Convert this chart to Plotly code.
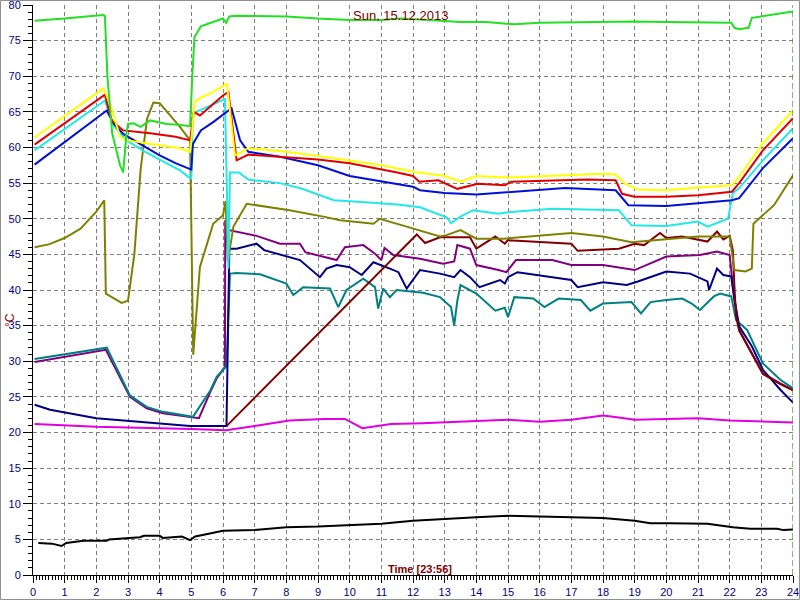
import plotly.graph_objects as go

# ---------------- data (hours, °C) ----------------
lime_t = [0.05, 1, 2.2, 2.27, 2.35, 2.5, 2.75, 2.85, 2.95, 3.0, 3.17, 3.4, 3.7, 4.0, 4.22, 4.6, 4.96, 5.03, 5.1, 5.3, 5.6, 6.0, 6.1, 6.2, 6.4, 7, 8, 9, 10, 11, 11.6, 12.5, 13.5, 14.3, 15.2, 16, 17, 18, 19, 20, 21, 22.05, 22.15, 22.3, 22.6, 22.7, 23, 24]
lime_v = [77.8, 78.1, 78.6, 78.5, 70.0, 62.0, 57.5, 56.5, 62.0, 63.3, 63.4, 62.9, 63.8, 63.5, 63.3, 63.2, 63.0, 70.0, 75.5, 77.0, 77.5, 78.1, 77.5, 78.4, 78.5, 78.5, 78.4, 78.1, 77.9, 77.9, 78.1, 77.9, 77.6, 77.6, 77.3, 77.5, 77.6, 77.6, 77.7, 77.6, 77.6, 77.5, 76.8, 76.6, 76.8, 78.2, 78.4, 79.1]

yellow_t = [0.05, 2.22, 2.43, 2.75, 3.0, 3.5, 4.0, 4.64, 4.96, 5.02, 5.1, 5.3, 5.6, 6.0, 6.12, 6.38, 6.8, 7.5, 8, 9, 10, 11, 12, 13, 13.5, 14, 15, 16, 17, 18, 18.4, 18.7, 19.1, 20, 21, 22.07, 22.3, 23.05, 24]
yellow_v = [61.4, 68.3, 66.2, 61.5, 61.0, 60.6, 60.3, 59.9, 59.4, 62.0, 66.4, 67.0, 67.6, 68.6, 69.0, 58.9, 59.9, 59.6, 59.4, 58.8, 58.2, 57.5, 56.6, 56.0, 55.2, 56.0, 55.8, 56.0, 56.1, 56.3, 56.2, 54.9, 54.1, 54.0, 54.4, 54.7, 55.9, 60.6, 65.2]

red_t = [0.05, 2.27, 2.48, 2.85, 3.7, 4.5, 4.96, 5.02, 5.08, 5.27, 5.6, 6.0, 6.17, 6.43, 6.8, 7.8, 9, 10, 11, 11.5, 12, 12.2, 12.8, 13.4, 14.05, 14.9, 15.1, 16.4, 17.5, 18.4, 18.6, 19, 20, 21, 22.07, 22.3, 23.05, 24]
red_v = [60.4, 67.4, 63.8, 62.4, 62.0, 61.5, 61.0, 63.0, 65.0, 64.5, 65.8, 67.3, 67.8, 58.2, 59.0, 58.7, 58.3, 57.8, 57.0, 56.5, 56.0, 55.2, 55.4, 54.2, 54.9, 54.7, 55.2, 55.4, 55.5, 55.4, 53.5, 53.1, 53.1, 53.3, 53.8, 55.0, 59.6, 64.1]

cyan_t = [0.05, 2.27, 2.54, 2.96, 3.5, 4.0, 4.64, 4.96, 5.0, 5.05, 5.3, 5.6, 6.06, 6.12, 6.17, 6.22, 6.5, 6.8, 7.8, 8.5, 9.5, 10.5, 11.5, 12.22, 13.06, 13.2, 13.5, 13.9, 14.7, 15, 16.4, 18.5, 18.9, 20, 21, 21.3, 21.95, 22.1, 22.3, 23.05, 24]
cyan_v = [59.6, 66.6, 63.1, 61.0, 59.5, 58.3, 56.8, 55.7, 55.7, 64.8, 65.3, 65.8, 66.8, 55.0, 43.0, 56.5, 56.5, 55.5, 55.0, 54.2, 52.6, 52.3, 52.0, 51.6, 50.2, 49.4, 50.3, 51.2, 50.7, 50.9, 51.4, 51.2, 49.1, 49.0, 49.6, 48.9, 50.0, 53.6, 54.3, 58.2, 62.7]

blue_t = [0.05, 2.33, 2.54, 2.85, 3.5, 4.0, 4.5, 5.0, 5.05, 5.3, 5.7, 6.0, 6.27, 6.54, 6.8, 7.8, 9, 10, 11, 12, 12.22, 13, 14, 15, 16.8, 18.4, 18.8, 20, 21, 22.07, 22.3, 23.05, 24]
blue_v = [57.6, 65.2, 63.4, 61.9, 60.2, 58.9, 57.8, 56.9, 60.5, 62.4, 63.6, 64.6, 65.5, 61.0, 59.4, 58.7, 57.5, 56.0, 55.3, 54.5, 54.0, 53.6, 53.4, 53.7, 54.3, 54.0, 51.9, 51.8, 52.2, 52.6, 52.9, 57.1, 61.3]

olive_t = [0.05, 0.5, 1.0, 1.5, 2.0, 2.25, 2.3, 2.5, 2.8, 3.0, 3.2, 3.4, 3.6, 3.8, 4.0, 4.33, 4.64, 4.96, 5.06, 5.27, 5.5, 5.69, 6.0, 6.08, 6.15, 6.33, 6.75, 8.1, 9.17, 9.7, 10.75, 10.95, 11.8, 12.2, 12.85, 13.06, 13.5, 14.0, 14.85, 17, 18, 18.9, 20, 21, 22.0, 22.15, 22.5, 22.7, 22.75, 23.05, 23.4, 24]
olive_v = [46.0, 46.4, 47.3, 48.6, 51.0, 52.6, 39.5, 39.0, 38.2, 38.5, 45.0, 57.0, 64.0, 66.3, 66.2, 64.5, 62.9, 61.0, 30.9, 43.2, 46.5, 49.3, 50.5, 52.5, 44.0, 48.9, 52.1, 51.2, 50.3, 49.8, 49.3, 50.0, 48.9, 48.4, 47.5, 47.7, 48.4, 47.2, 47.2, 48.0, 47.5, 46.7, 47.1, 47.5, 47.5, 42.8, 42.6, 43.0, 49.3, 50.5, 51.9, 56.1]

purple_t = [0.05, 2.3, 3.06, 3.59, 4.1, 5.24, 5.6, 5.8, 6.06, 6.07, 6.2, 6.75, 7.06, 7.8, 8.43, 8.6, 9.59, 9.85, 10.43, 10.8, 11.0, 11.1, 11.38, 12.22, 12.95, 13.3, 13.4, 13.8, 14.0, 14.7, 14.95, 15.25, 16.4, 17, 18, 19, 19.8, 20, 21.06, 21.6, 22.0, 22.1, 22.3, 22.7, 23.05, 23.6, 24]
purple_v = [29.9, 31.6, 25.0, 23.4, 22.7, 22.0, 25.7, 27.6, 29.2, 49.8, 48.4, 47.9, 47.6, 46.5, 46.5, 45.3, 44.2, 46.0, 46.3, 45.1, 44.2, 45.9, 44.9, 44.4, 43.7, 44.0, 46.3, 45.8, 43.5, 42.8, 42.5, 44.2, 44.2, 43.5, 43.5, 42.8, 44.4, 44.7, 44.9, 45.4, 44.9, 40.5, 34.4, 31.1, 28.3, 26.9, 26.0]

navy_t = [0.05, 0.54, 2.0, 4.1, 4.96, 6.11, 6.2, 6.43, 7.06, 7.3, 8.1, 8.43, 9.06, 9.27, 9.59, 10.0, 10.38, 10.75, 11.27, 11.54, 11.8, 12.22, 12.85, 13.3, 13.5, 13.8, 14.1, 14.75, 14.9, 15.0, 15.3, 17, 17.2, 18, 18.75, 19.1, 20, 20.75, 21.3, 21.35, 21.6, 21.8, 22.05, 22.15, 22.3, 22.7, 23.05, 23.6, 24]
navy_v = [23.9, 23.2, 22.0, 21.2, 20.9, 20.9, 45.8, 45.8, 46.5, 45.6, 44.6, 44.2, 41.8, 43.0, 43.5, 43.2, 42.1, 43.9, 43.0, 42.5, 40.2, 42.8, 42.3, 41.8, 42.8, 41.8, 40.4, 41.4, 40.9, 41.8, 42.5, 41.4, 40.4, 41.1, 40.7, 41.2, 42.6, 42.3, 41.2, 40.0, 43.0, 42.1, 41.9, 38.6, 34.9, 32.1, 28.8, 26.0, 24.2]

teal_t = [0.05, 2.33, 3.06, 3.59, 4.1, 5.05, 5.6, 5.8, 6.11, 6.22, 6.43, 7.17, 8.0, 8.22, 8.53, 9.38, 9.64, 9.9, 10.43, 10.8, 10.9, 11.06, 11.27, 11.48, 12.32, 12.85, 13.2, 13.3, 13.4, 13.5, 14.0, 14.6, 14.9, 15.0, 15.2, 15.8, 16.15, 16.6, 17.3, 17.6, 18, 18.9, 19.2, 19.5, 20, 20.5, 20.8, 21.06, 21.5, 21.7, 22.05, 22.2, 22.55, 23.05, 23.6, 24]
teal_v = [30.3, 31.9, 25.2, 23.6, 22.9, 22.2, 25.9, 27.8, 29.3, 42.3, 42.4, 42.2, 40.9, 39.3, 40.4, 40.2, 37.6, 40.0, 41.6, 40.4, 37.4, 40.2, 39.0, 40.0, 39.6, 39.0, 37.6, 35.0, 38.5, 40.7, 39.5, 37.1, 37.5, 36.2, 39.0, 38.8, 37.6, 38.8, 38.6, 37.1, 38.1, 38.3, 36.7, 38.3, 38.6, 38.8, 38.1, 37.2, 39.1, 39.5, 39.1, 35.8, 34.4, 29.7, 27.4, 26.2]

maroon_t = [6.11, 12.12, 12.38, 12.85, 13.8, 14.0, 14.6, 14.9, 15.0, 17, 17.2, 18.5, 19.0, 19.3, 19.8, 20.0, 20.5, 21.3, 21.6, 21.8, 22.0, 22.1, 22.15, 22.2, 22.3, 22.7, 23.05, 23.6, 24]
maroon_v = [20.9, 47.8, 46.6, 47.4, 47.4, 45.8, 47.5, 46.5, 47.0, 46.5, 45.5, 45.8, 46.5, 46.3, 48.0, 47.3, 47.5, 46.8, 48.2, 47.1, 47.6, 45.6, 40.5, 36.3, 34.3, 31.0, 28.2, 26.8, 25.9]

magenta_t = [0.05, 2, 5, 6.1, 7, 8.1, 9.2, 9.85, 10.4, 11.3, 12.3, 13, 14, 15, 16, 17, 18, 18.5, 19, 20, 21, 22, 23, 24]
magenta_v = [21.2, 20.8, 20.5, 20.3, 20.9, 21.7, 21.9, 21.9, 20.6, 21.2, 21.3, 21.4, 21.6, 21.8, 21.5, 21.8, 22.4, 22.1, 21.8, 21.9, 22.0, 21.7, 21.6, 21.4]

black_t = [0.17, 0.6, 0.9, 1.05, 1.59, 2.33, 2.4, 2.96, 3.38, 3.5, 4.0, 4.1, 4.7, 4.96, 5.12, 5.28, 6, 7, 8, 9, 10, 11, 12, 13, 14, 15, 16, 17, 18, 19, 19.5, 20.1, 21.0, 21.3, 22.1, 22.65, 23.5, 23.7, 24]
black_v = [4.5, 4.4, 4.07, 4.5, 4.8, 4.8, 5.0, 5.15, 5.3, 5.5, 5.5, 5.2, 5.4, 4.9, 5.4, 5.55, 6.2, 6.3, 6.7, 6.8, 7.0, 7.2, 7.6, 7.9, 8.1, 8.3, 8.2, 8.1, 8.0, 7.6, 7.25, 7.25, 7.2, 7.2, 6.7, 6.5, 6.5, 6.3, 6.4]

x_ticks = list(range(0, 25))
y_ticks = list(range(0, 81, 5))
title_text = "Sun, 15.12.2013"
time_text = "Time [23:56]"
unit_text = "°C"

# ---------------- figure ----------------
series = [
    (black_t, black_v, "#000000"),
    (magenta_t, magenta_v, "#e000e0"),
    (purple_t, purple_v, "#800080"),
    (teal_t, teal_v, "#008080"),
    (navy_t, navy_v, "#000080"),
    (maroon_t, maroon_v, "#800000"),
    (olive_t, olive_v, "#808000"),
    (cyan_t, cyan_v, "#22e8e8"),
    (blue_t, blue_v, "#0010d8"),
    (red_t, red_v, "#e00000"),
    (yellow_t, yellow_v, "#ffff00"),
    (lime_t, lime_v, "#22e022"),
]

fig = go.Figure()
for t, v, c in series:
    fig.add_trace(go.Scatter(x=t, y=v, mode="lines", line=dict(color=c, width=2),
                             hoverinfo="skip", showlegend=False))

W, H = 800, 600
ML, MR, MT, MB = 33, 7, 5, 25
pw, ph = W - ML - MR, H - MT - MB

fig.update_layout(
    width=W, height=H, autosize=False,
    margin=dict(l=ML, r=MR, t=MT, b=MB, pad=0, autoexpand=False),
    paper_bgcolor="white", plot_bgcolor="white",
    font=dict(family="Liberation Sans, Arial, sans-serif", size=11, color="#000080"),
    xaxis=dict(range=[0, 24], tickvals=x_ticks, showgrid=True, gridcolor="#808080",
               griddash="4px,3px", gridwidth=1, zeroline=False, automargin=False,
               showline=True, linecolor="#000000", linewidth=1, ticklabeloverflow="allow",
               ticks="outside", ticklen=7, tickcolor="#000000",
               minor=dict(dtick=0.1, ticks="outside", ticklen=4, tickcolor="#000000", showgrid=False),
               tickfont=dict(size=11, color="#000080")),
    yaxis=dict(range=[0, 80], tickvals=y_ticks, showgrid=True, gridcolor="#808080",
               griddash="4px,3px", gridwidth=1, zeroline=False, automargin=False,
               showline=True, linecolor="#000000", linewidth=1, ticklabeloverflow="allow",
               ticks="outside", ticklen=9, tickcolor="#000000",
               minor=dict(dtick=1, ticks="outside", ticklen=4, tickcolor="#000000", showgrid=False),
               tickfont=dict(size=11, color="#000080")),
)

# right-edge marker (dashed dark green) at end of day
fig.add_shape(type="line", xref="x", yref="paper", x0=24, x1=24, y0=0, y1=1,
              line=dict(color="#007000", width=1, dash="6px,3px"))
# outer frame
fig.add_shape(type="rect", xref="paper", yref="paper",
              x0=-(ML - 0.5) / pw, x1=(pw + MR - 0.5) / pw,
              y0=-(MB - 0.5) / ph, y1=(ph + MT - 0.5) / ph,
              line=dict(color="#909090", width=1), fillcolor="rgba(0,0,0,0)", layer="above")

fig.add_annotation(text=title_text, xref="paper", yref="paper",
                   x=(400 - ML) / pw, y=(H - MB - 16) / ph, showarrow=False,
                   font=dict(size=13, color="#800000", family="Liberation Sans, Arial, sans-serif"),
                   xanchor="center", yanchor="middle")
fig.add_annotation(text="<b>" + time_text + "</b>", xref="paper", yref="paper",
                   x=(420 - ML) / pw, y=(H - MB - 569) / ph, showarrow=False,
                   font=dict(size=11, color="#800000", family="Liberation Sans, Arial, sans-serif"),
                   xanchor="center", yanchor="middle")
fig.add_annotation(text=unit_text, xref="paper", yref="paper",
                   x=(10 - ML) / pw, y=(H - MB - 320) / ph, showarrow=False, textangle=-90,
                   font=dict(size=12, color="#800000", family="Liberation Sans, Arial, sans-serif"),
                   xanchor="center", yanchor="middle")

fig.write_html("out.html", config={"displayModeBar": False},
               post_script="document.body.style.margin='0';document.body.style.overflow='hidden';")
